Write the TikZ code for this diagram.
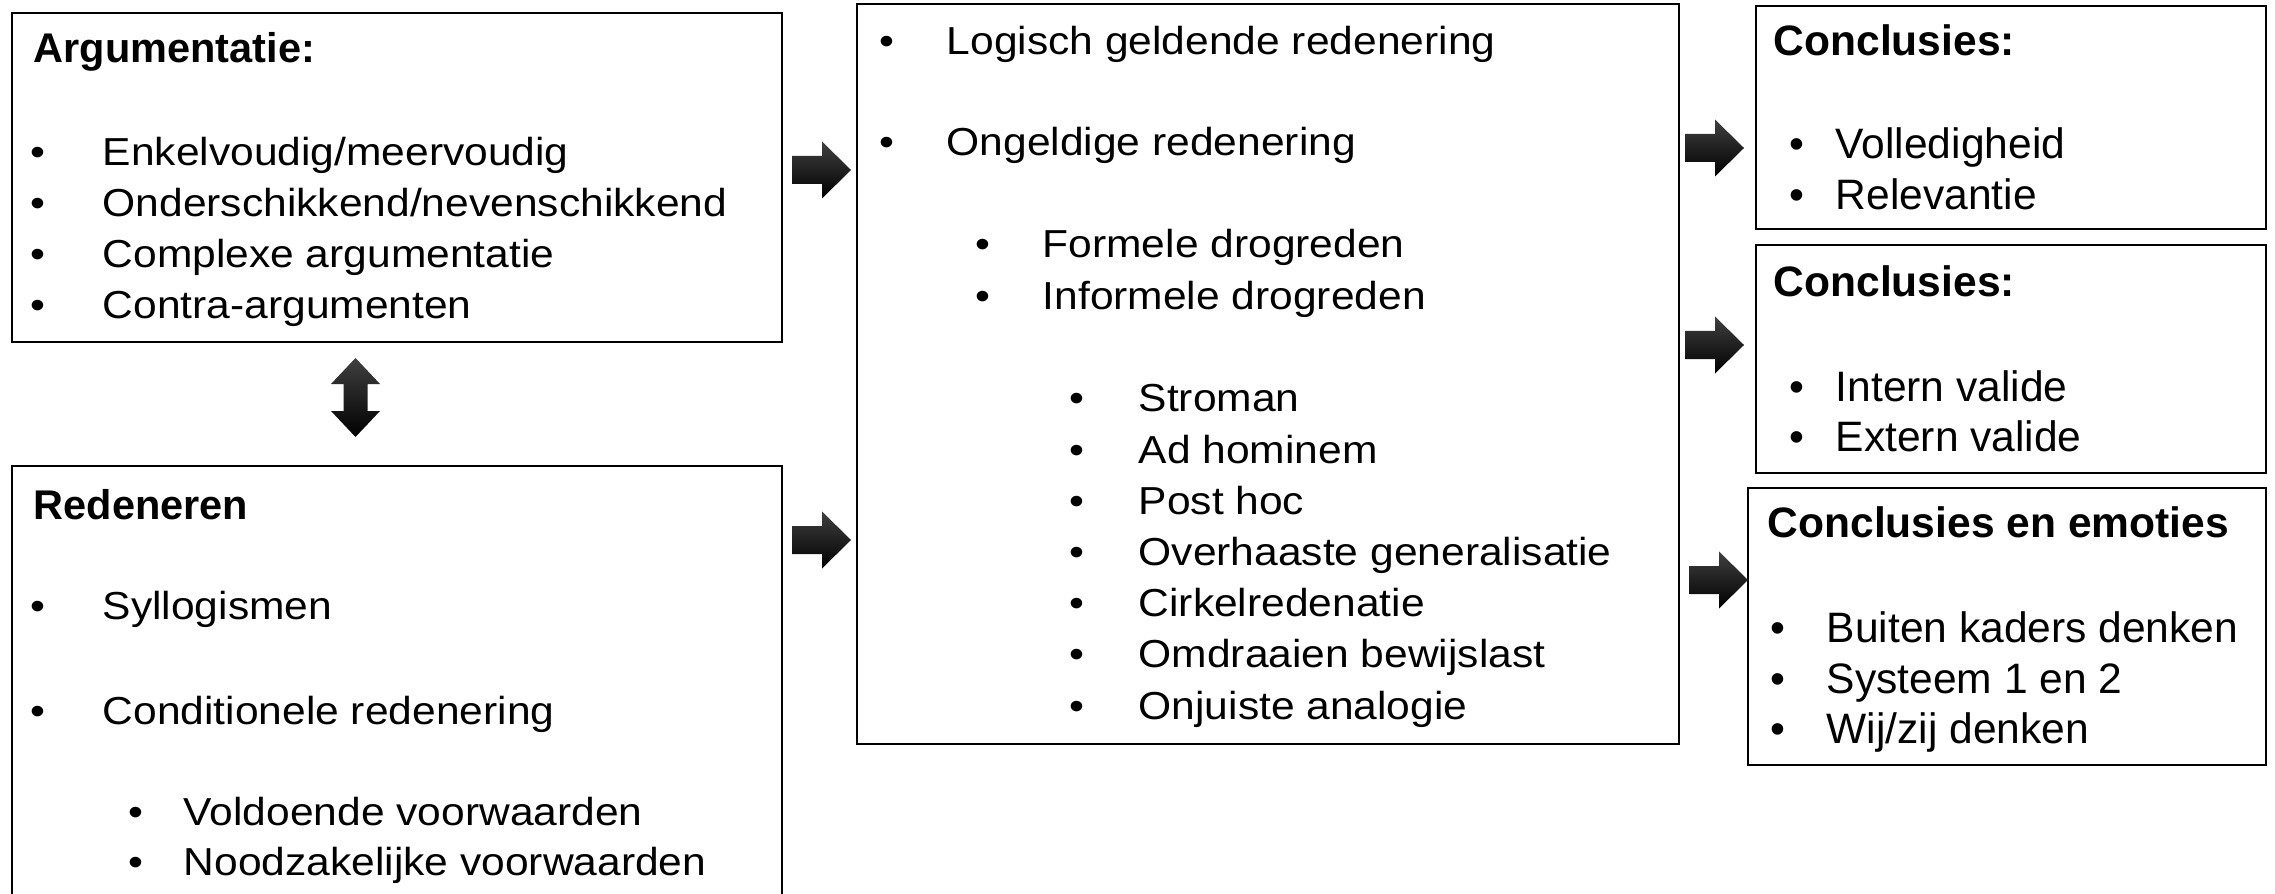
\documentclass[tikz,border=0pt]{standalone}
\usepackage{fontspec}
\setmainfont{Liberation Sans}
\newfontfamily\widesans[FakeStretch=1.09]{Liberation Sans}
\newcommand\myRArrow[3]{%
  \coordinate (#1) at (#2,#3);
  \path[blockarrow] (#2,#3-14) -- (#2+30,#3-14) -- (#2+30,#3-28.5) -- (#2+59,#3)
    -- (#2+30,#3+28.5) -- (#2+30,#3+14) -- (#2,#3+14) -- cycle;}
\begin{document}
\begin{tikzpicture}[x=0.01cm,y=-0.01cm,
  box/.style={draw=black, line width=0.6pt, rectangle, inner sep=0pt},
  txt/.style={anchor=base west, inner sep=0pt, font=\widesans\fontsize{11.1pt}{14pt}\selectfont},
  rtxt/.style={anchor=base west, inner sep=0pt, font=\fontsize{12.1pt}{14pt}\selectfont},
  ttl/.style={anchor=base west, inner sep=0pt, font=\fontsize{11.8pt}{14pt}\selectfont\bfseries},
  rttl/.style={anchor=base west, inner sep=0pt, font=\fontsize{12.1pt}{14pt}\selectfont\bfseries},
  blockarrow/.style={top color=black!75, bottom color=black, draw=none}
]
\clip (0,0) rectangle (2275,894);
\fill[white] (0,0) rectangle (2275,894);

% boxes
\node[box, minimum width=7.70cm, minimum height=3.29cm] (arg) at (397,177.5) {};
\node[box, minimum width=7.70cm, minimum height=4.54cm] (red) at (397,693) {};
\node[box, minimum width=8.22cm, minimum height=7.40cm] (mid) at (1268,374) {};
\node[box, minimum width=5.10cm, minimum height=2.23cm] (c1) at (2011,117.5) {};
\node[box, minimum width=5.10cm, minimum height=2.28cm] (c2) at (2011,359) {};
\node[box, minimum width=5.18cm, minimum height=2.77cm] (c3) at (2007,626.5) {};

% Argumentatie
\node[ttl] (argt) at (33,63) {Argumentatie:};
\foreach \t [count=\i] in {Enkelvoudig/meervoudig,Onderschikkend/nevenschikkend,Complexe argumentatie,Contra-argumenten}{
  \pgfmathsetmacro\yy{166+51*(\i-1)}
  \node[txt] (argb\i) at (30,\yy) {•};
  \node[txt] (arg\i) at (102,\yy) {\t};
}

% Redeneren
\node[ttl] (redt) at (33,519) {Redeneren};
\node[txt] (redb1) at (30,619) {•};
\node[txt] (red1) at (102,619) {Syllogismen};
\node[txt] (redb2) at (30,724) {•};
\node[txt] (red2) at (102,724) {Conditionele redenering};
\node[txt] (redb3) at (128,825) {•};
\node[txt] (red3) at (183,825) {Voldoende voorwaarden};
\node[txt] (redb4) at (128,875) {•};
\node[txt] (red4) at (183,875) {Noodzakelijke voorwaarden};

% Middle
\node[txt] (midb1) at (879,55) {•};
\node[txt] (mid1) at (946,55) {Logisch geldende redenering};
\node[txt] (midb2) at (879,156) {•};
\node[txt] (mid2) at (946,156) {Ongeldige redenering};
\node[txt] (midb3) at (975,258) {•};
\node[txt] (mid3) at (1042,258) {Formele drogreden};
\node[txt] (midb4) at (975,310) {•};
\node[txt] (mid4) at (1042,310) {Informele drogreden};
\foreach \t [count=\i] in {Stroman,Ad hominem,Post hoc,Overhaaste generalisatie,Cirkelredenatie,Omdraaien bewijslast,Onjuiste analogie}{
  \pgfmathsetmacro\yy{412+51.17*(\i-1)}
  \node[txt] (fb\i) at (1069,\yy) {•};
  \node[txt] (f\i) at (1138,\yy) {\t};
}

% Conclusies 1
\node[rttl] (c1t) at (1773,56) {Conclusies:};
\node[rtxt] (c1b1) at (1789,159) {•};
\node[rtxt] (c1a) at (1835,159) {Volledigheid};
\node[rtxt] (c1b2) at (1789,209) {•};
\node[rtxt] (c1c) at (1835,209) {Relevantie};

% Conclusies 2
\node[rttl] (c2t) at (1773,297) {Conclusies:};
\node[rtxt] (c2b1) at (1789,401) {•};
\node[rtxt] (c2a) at (1835,401) {Intern valide};
\node[rtxt] (c2b2) at (1789,451) {•};
\node[rtxt] (c2c) at (1835,451) {Extern valide};

% Conclusies 3
\node[rttl] (c3t) at (1767,537) {Conclusies en emoties};
\node[rtxt] (c3b1) at (1770,642) {•};
\node[rtxt] (c3a) at (1826,642) {Buiten kaders denken};
\node[rtxt] (c3b2) at (1770,693) {•};
\node[rtxt] (c3c) at (1826,693) {Systeem 1 en 2};
\node[rtxt] (c3b3) at (1770,743) {•};
\node[rtxt] (c3d) at (1826,743) {Wij/zij denken};

% block arrows
\myRArrow{ar1}{792}{170}
\myRArrow{ar2}{792}{540}
\myRArrow{ar3}{1685}{148}
\myRArrow{ar4}{1685}{345}
\myRArrow{ar5}{1689}{580}

% double arrow
\path[blockarrow] (355.5,358) -- (380,384) -- (367.5,384) -- (367.5,411) -- (380,411)
  -- (355.5,437) -- (331,411) -- (343.5,411) -- (343.5,384) -- (331,384) -- cycle;
\end{tikzpicture}
\end{document}
